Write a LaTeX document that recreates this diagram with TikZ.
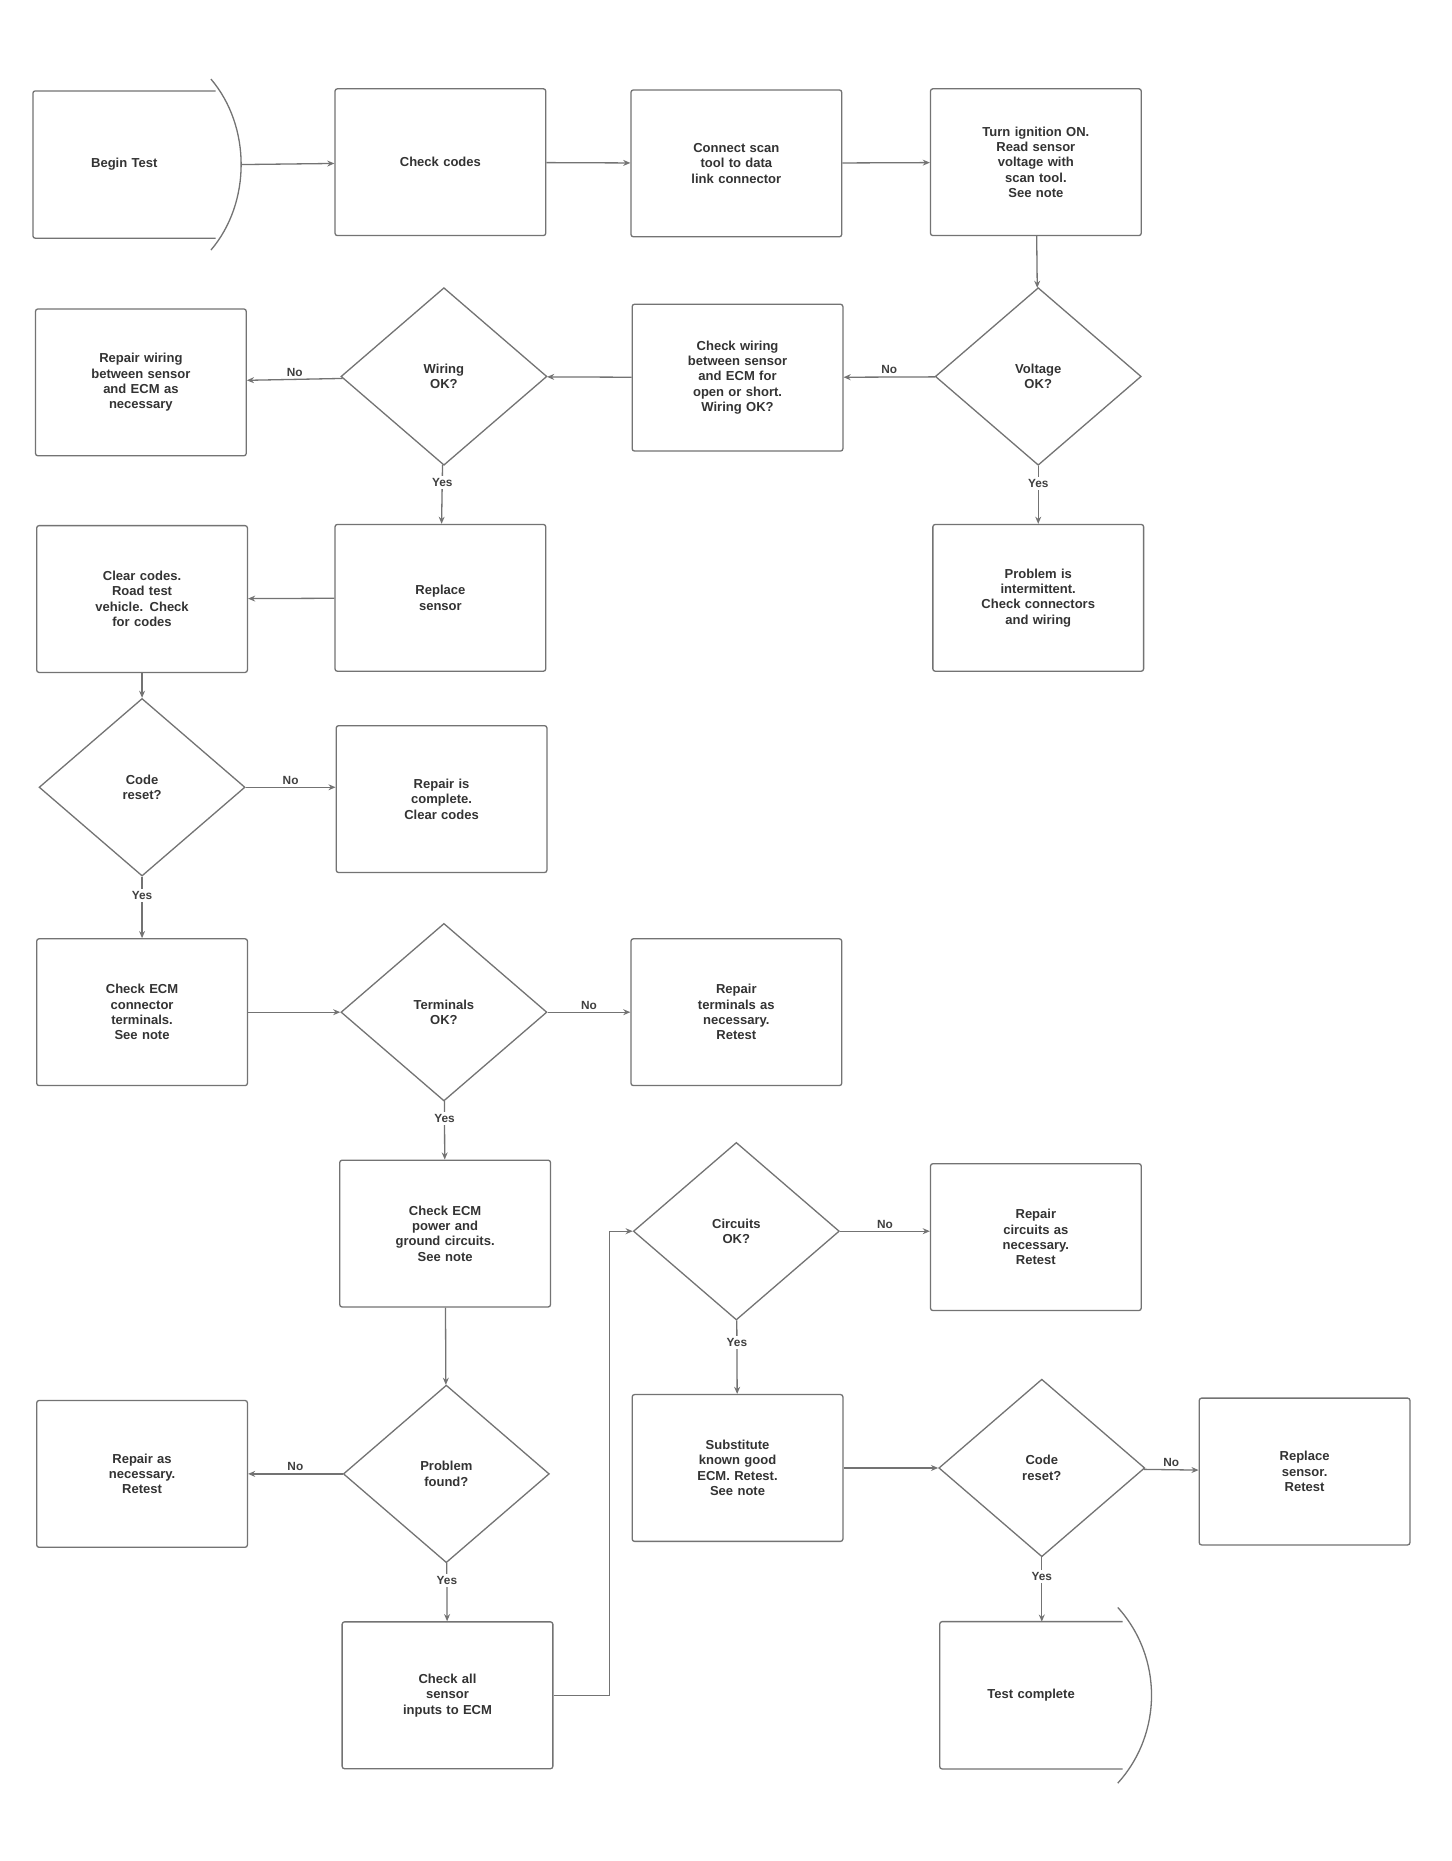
\documentclass[tikz,border=0pt]{standalone}
\usepackage{fontspec}
\setmainfont{Liberation Sans}
\usetikzlibrary{shapes.geometric,arrows.meta,calc}
\begin{document}
\begin{tikzpicture}[x=1pt,y=-1pt,
  line/.style={draw=black!55,line width=1.1pt},
  arr/.style={line,-{Stealth[length=6pt,width=5pt]}},
  procbox/.style={rectangle,rounded corners=2pt,draw=black!55,line width=1.1pt,minimum width=178pt,minimum height=124pt,
    text width=150pt,align=center,font=\bfseries\fontsize{11}{13}\selectfont,text=black!80,inner sep=4pt},
  termbox/.style={rectangle,draw=none,minimum width=154pt,minimum height=124pt,
    text width=130pt,align=center,font=\bfseries\fontsize{11}{13}\selectfont,text=black!80},
  decis/.style={diamond,draw=black!55,line width=1.1pt,minimum width=174pt,minimum height=150pt,
    inner sep=0pt,text width=78pt,align=center,font=\bfseries\fontsize{11}{13}\selectfont,text=black!80},
  lab/.style={font=\bfseries\fontsize{10}{12}\selectfont,text=black!75,inner sep=2pt}
]
\useasboundingbox (0,0) rectangle (1226,1572);
\fill[white] (0,0) rectangle (1226,1572);

% row 1
\node[termbox] (A1) at (105,139) {Begin Test};
\draw[line,rounded corners=2pt] (A1.north east) -- (A1.north west) -- (A1.south west) -- (A1.south east);
\draw[line] ($(A1.north east)+(-4,-10)$) .. controls ($(A1.north east)+(30,30)$) and ($(A1.south east)+(30,-30)$) .. ($(A1.south east)+(-4,10)$);
\coordinate (A1tip) at ($(A1.east)+(22,0)$);
\node[procbox] (A2) at (372,137) {Check codes};
\node[procbox] (A3) at (622,138) {Connect scan\\tool to data\\link connector};
\node[procbox] (A4) at (875,137) {Turn ignition ON.\\Read sensor\\voltage with\\scan tool.\\See note};

% row 2
\node[procbox] (B1) at (119,323) {Repair wiring\\between sensor\\and ECM as\\necessary};
\node[decis] (B2) at (375,318) {Wiring\\OK?};
\node[procbox] (B3) at (623,319) {Check wiring\\between sensor\\and ECM for\\open or short.\\Wiring OK?};
\node[decis] (B4) at (877,318) {Voltage\\OK?};

% row 3
\node[procbox] (C1) at (120,506) {Clear codes.\\Road test\\vehicle. Check\\for codes};
\node[procbox] (C2) at (372,505) {Replace\\sensor};
\node[procbox] (C4) at (877,505) {Problem is\\intermittent.\\Check connectors\\and wiring};

% row 4
\node[decis] (D1) at (120,665) {Code\\reset?};
\node[procbox] (D2) at (373,675) {Repair is\\complete.\\Clear codes};

% row 5
\node[procbox] (E1) at (120,855) {Check ECM\\connector\\terminals.\\See note};
\node[decis] (E2) at (375,855) {Terminals\\OK?};
\node[procbox] (E3) at (622,855) {Repair\\terminals as\\necessary.\\Retest};

% row 6
\node[procbox] (F2) at (376,1042) {Check ECM\\power and\\ground circuits.\\See note};
\node[decis] (F3) at (622,1040) {Circuits\\OK?};
\node[procbox] (F4) at (875,1045) {Repair\\circuits as\\necessary.\\Retest};

% row 7
\node[procbox] (G1) at (120,1245) {Repair as\\necessary.\\Retest};
\node[decis] (G2) at (377,1245) {Problem\\found?};
\node[procbox] (G3) at (623,1240) {Substitute\\known good\\ECM. Retest.\\See note};
\node[decis] (G4) at (880,1240) {Code\\reset?};
\node[procbox] (G5) at (1102,1243) {Replace\\sensor.\\Retest};

% row 8
\node[procbox] (H2) at (378,1432) {Check all\\sensor\\inputs to ECM};
\node[termbox] (H4) at (871,1432) {Test complete};
\draw[line,rounded corners=2pt] (H4.north east) -- (H4.north west) -- (H4.south west) -- (H4.south east);
\draw[line] ($(H4.north east)+(-4,-12)$) .. controls ($(H4.north east)+(34,30)$) and ($(H4.south east)+(34,-30)$) .. ($(H4.south east)+(-4,12)$);
\coordinate (Hbend1) at (515,1432);
\coordinate (Hbend2) at (515,1040);

% connectors
\draw[arr] (A1tip) -- (A2);
\draw[arr] (A2) -- (A3);
\draw[arr] (A3) -- (A4);
\draw[arr] (A4) -- (B4);
\draw[arr] (B4) -- node[lab,midway,above]{No} (B3);
\draw[arr] (B4) -- node[lab,pos=0.3,fill=white]{Yes} (C4);
\draw[arr] (B3) -- (B2);
\draw[arr] (B2) -- node[lab,midway,above]{No} (B1);
\draw[arr] (B2) -- node[lab,pos=0.3,fill=white]{Yes} (C2);
\draw[arr] (C2) -- (C1);
\draw[arr] (C1) -- (D1);
\draw[arr] (D1.east) -- node[lab,midway,above]{No} (D1.east -| D2.west);
\draw[arr] (D1) -- node[lab,pos=0.3,fill=white]{Yes} (E1);
\draw[arr] (E1) -- (E2);
\draw[arr] (E2) -- node[lab,midway,above]{No} (E3);
\draw[arr] (E2) -- node[lab,pos=0.3,fill=white]{Yes} (F2);
\draw[arr] (F3) -- node[lab,midway,above]{No} (F3.east -| F4.west);
\draw[arr] (F3) -- node[lab,pos=0.3,fill=white]{Yes} (G3);
\draw[arr] (F2) -- (G2);
\draw[arr] (G2) -- node[lab,midway,above]{No} (G1);
\draw[arr] (G2) -- node[lab,pos=0.3,fill=white]{Yes} (H2);
\draw[arr] (H2.east) -- (Hbend1) -- (Hbend2) -- (F3.west);
\draw[arr] (G3) -- (G4);
\draw[arr] (G4) -- node[lab,midway,above]{No} (G5);
\draw[arr] (G4.south) -- node[lab,pos=0.3,fill=white]{Yes} (G4.south |- H4.north);
\end{tikzpicture}
\end{document}
